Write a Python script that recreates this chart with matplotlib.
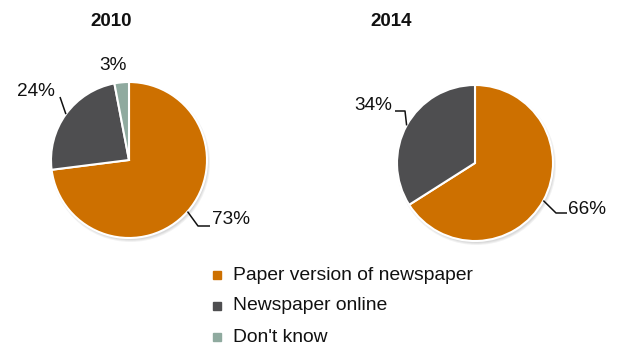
import numpy as np
import matplotlib.pyplot as plt
from matplotlib.patches import Circle

plt.rcParams['font.family'] = ['Liberation Sans', 'DejaVu Sans']

categories = ['Paper version of newspaper', 'Newspaper online', "Don't know"]
colors = ['#CD7000', '#4E4E50', '#8FAA9F']
years = ['2010', '2014']
shares_2010 = [73, 24, 3]
shares_2014 = [66, 34]

W, H = 618, 348
fig = plt.figure(figsize=(W / 100, H / 100), dpi=100)
ax = fig.add_axes([0, 0, 1, 1])


def Y(y):
    # pixel rows from the top -> data y
    return H - y


R = 78
pies = [
    dict(year=years[0], values=shares_2010, center=(129, 160), title=(111, 22),
         labels=[dict(text=(212, 220), ha='left', elbow=(198, 226), end=210),
                 dict(text=(55, 92), ha='right', elbow=(60, 97), end=None),
                 dict(text=(113, 65), ha='center', elbow=None, end=None)]),
    dict(year=years[1], values=shares_2014, center=(475, 163), title=(391, 22),
         labels=[dict(text=(568, 209), ha='left', elbow=(556, 213), end=567),
                 dict(text=(392, 106), ha='right', elbow=(405, 111), end=395)]),
]

for p in pies:
    cx, cy = p['center']
    # soft shadow under the pie
    for k in range(3):
        ax.add_patch(Circle((cx + 1.5, Y(cy) - 2.5), R + 1.5 - k, color='#000000',
                            alpha=0.05, lw=0, zorder=0))
    vals = p['values']
    wedges, _ = ax.pie(vals, colors=colors[:len(vals)], startangle=90, counterclock=False,
                       radius=R, center=(cx, Y(cy)),
                       wedgeprops=dict(edgecolor='white', linewidth=1.5))
    for w in wedges:
        w.set_zorder(2)
    ax.text(p['title'][0], Y(p['title'][1]), p['year'], ha='center', va='center',
            fontsize=13.5, fontweight='bold', color='#111111')

    total = sum(vals)
    start = 90.0
    for v, lab in zip(vals, p['labels']):
        sweep = v / total * 360
        mid = np.deg2rad(start - sweep / 2)
        start -= sweep
        ex, ey = cx + R * np.cos(mid), Y(cy) + R * np.sin(mid)
        if lab['elbow'] is not None:
            xs = [ex, lab['elbow'][0]]
            ys = [ey, Y(lab['elbow'][1])]
            if lab['end'] is not None:
                xs.append(lab['end'])
                ys.append(Y(lab['elbow'][1]))
            ax.plot(xs, ys, color='#111111', lw=1.1, zorder=3, solid_capstyle='butt')
        ax.text(lab['text'][0], Y(lab['text'][1]), f'{v}%', ha=lab['ha'], va='center',
                fontsize=13.7, color='#111111')

# legend
for i, (name, col) in enumerate(zip(categories, colors)):
    ly = Y(275 + i * 31)
    ax.plot([217], [ly], marker='s', markersize=5.5, color=col, lw=0)
    ax.text(233, ly, name, ha='left', va='center', fontsize=13.9, color='#111111')

ax.set_xlim(0, W)
ax.set_ylim(0, H)
ax.set_aspect('equal')
ax.axis('off')

fig.savefig('out.png', dpi=100)
